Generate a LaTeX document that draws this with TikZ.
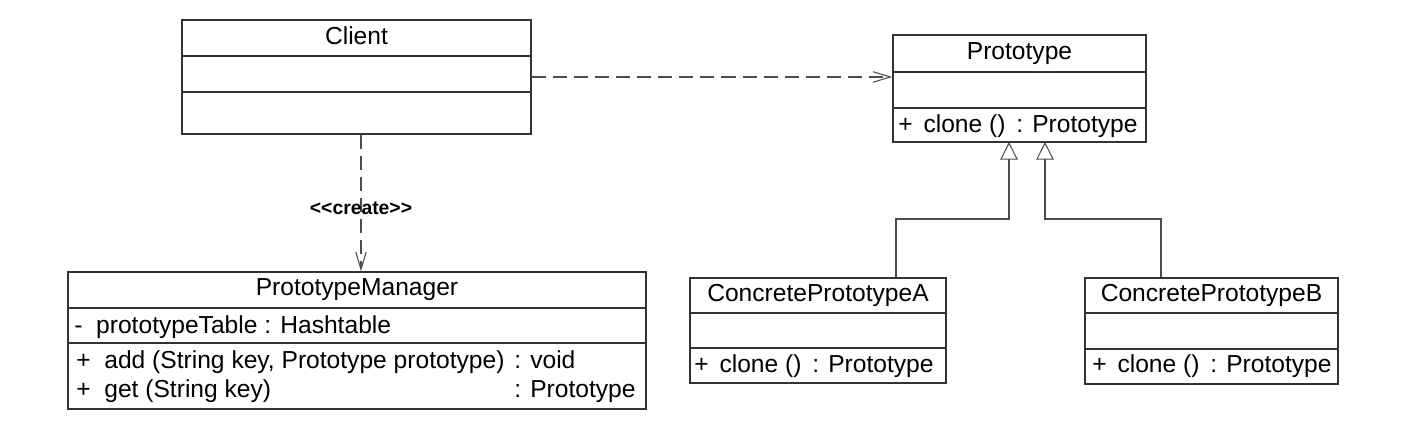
\documentclass[tikz,border=0pt]{standalone}
\usepackage{fontspec}
\setmainfont{Liberation Sans}
\usepackage{tikz}
\usetikzlibrary{arrows.meta,positioning,fit,calc}

\begin{document}
\begin{tikzpicture}[
  x=0.02cm, y=-0.02cm,
  every node/.style = {inner sep=0pt, font=\fontsize{14}{16}\selectfont,
                       text height=0.716em, text depth=0pt},
  cls/.style  = {draw=black!80, line width=0.8pt},
  sep/.style  = {draw=black!80, line width=0.8pt},
  op/.style   = {anchor=west},
  dep/.style  = {draw=black!70, line width=0.6pt, dash pattern=on 8pt off 4pt,
                 -{Straight Barb[length=10pt,width=6pt]}},
  gen/.style  = {draw=black!70, line width=0.6pt,
                 -{Triangle[open,length=10pt,width=10pt]}},
  stereo/.style = {font=\fontsize{11}{13}\selectfont\bfseries},
]
\useasboundingbox (0,0) rectangle (1410,438);

% class boxes
\node[cls, fit={(182,20) (531,134)}]   (client) {};
\node[cls, fit={(893,35) (1146,142)}]  (proto)  {};
\node[cls, fit={(68,272) (646,409)}]   (pm)     {};
\node[cls, fit={(690,278) (946,383)}]  (ca)     {};
\node[cls, fit={(1085,278) (1338,384)}] (cb)    {};

% compartments
\draw[sep] (client.west |- 0,56)  -- (client.east |- 0,56);
\draw[sep] (client.west |- 0,92)  -- (client.east |- 0,92);
\draw[sep] (proto.west |- 0,72)   -- (proto.east |- 0,72);
\draw[sep] (proto.west |- 0,108)  -- (proto.east |- 0,108);
\draw[sep] (pm.west |- 0,308)     -- (pm.east |- 0,308);
\draw[sep] (pm.west |- 0,343)     -- (pm.east |- 0,343);
\draw[sep] (ca.west |- 0,313)     -- (ca.east |- 0,313);
\draw[sep] (ca.west |- 0,348)     -- (ca.east |- 0,348);
\draw[sep] (cb.west |- 0,313)     -- (cb.east |- 0,313);
\draw[sep] (cb.west |- 0,349)     -- (cb.east |- 0,349);

% texts
\node (clientT) at (356.5,38)   {Client};
\node (protoT)  at (1019.5,53.5) {Prototype};
\node[op] (protoM) at (898,126) {+\hspace{0.44em}clone ()\hspace{0.44em}: Prototype};
\node (pmT)     at (357,289)    {PrototypeManager};
\node[op] (pmA)    at (74,327)  {-~~prototypeTable : Hashtable};
\node[op] (pmAdd)  at (76,362)  {+~~add (String key, Prototype prototype)};
\node[op] (pmAddR) at (514,362) {: void};
\node[op] (pmGet)  at (76,391)  {+~~get (String key)};
\node[op] (pmGetR) at (514,391) {: Prototype};
\node (caT)     at (818,295.5)  {ConcretePrototypeA};
\node[op] (caM) at (694,366)    {+\hspace{0.44em}clone ()\hspace{0.44em}: Prototype};
\node (cbT)     at (1211.5,295.5) {ConcretePrototypeB};
\node[op] (cbM) at (1092,366)   {+\hspace{0.44em}clone ()\hspace{0.44em}: Prototype};

% relations
\draw[dep] (client.east) -- (client.east -| proto.west);
\coordinate (cs) at ($(client.south)+(4.5,0)$);
\draw[dep] (cs) -- node[stereo, pos=0.54] (crt) {<{}<create>{}>} (cs |- pm.north);

\coordinate (ja)   at (896,219);
\coordinate (jb)   at (1161,219);
\coordinate (tipa) at (1009,142);
\coordinate (tipb) at (1045,142);
\draw[gen] (ca.north -| ja) -- (ja) -| (tipa);
\draw[gen] (cb.north -| jb) -- (jb) -| (tipb);
\end{tikzpicture}
\end{document}
